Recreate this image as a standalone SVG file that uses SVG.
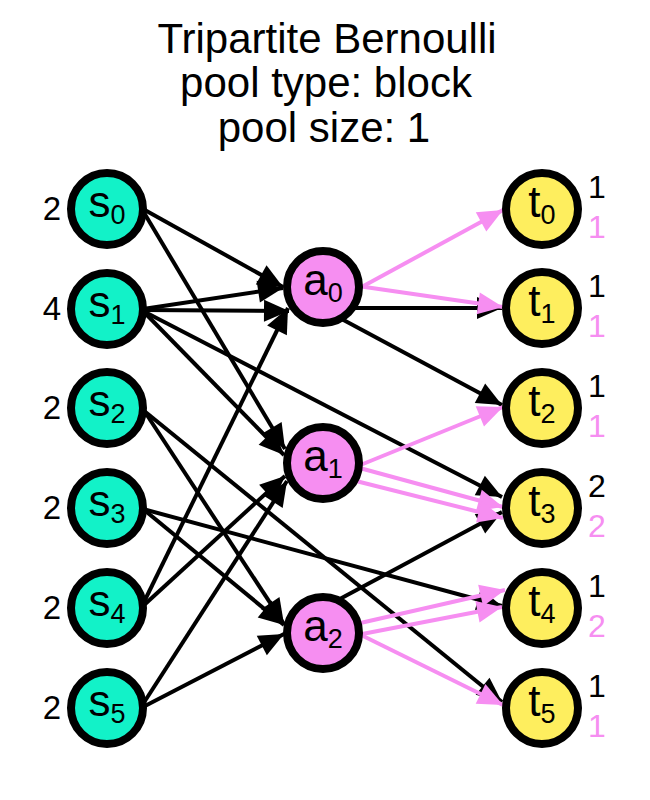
<svg xmlns="http://www.w3.org/2000/svg" width="650" height="800" viewBox="0 0 650 800">
<style>
.title{font-family:"Liberation Sans",Arial,Helvetica,sans-serif;font-size:42px;fill:#000;text-anchor:middle}
.nl{font-family:"Liberation Sans",Arial,Helvetica,sans-serif;font-size:44px;fill:#000;text-anchor:middle}
.sub{font-size:27px}
.deg{font-family:"Liberation Sans",Arial,Helvetica,sans-serif;font-size:33px;fill:#000;text-anchor:end}
.cap{font-family:"Liberation Sans",Arial,Helvetica,sans-serif;font-size:32px;text-anchor:start}
.capk{fill:#000}
.capp{fill:#F68EF1}
.s{fill:#12F2C8;stroke:#000;stroke-width:8}
.a{fill:#F68EF1;stroke:#000;stroke-width:8}
.t{fill:#FEEE5E;stroke:#000;stroke-width:8}
.eb{stroke:#000;stroke-width:4;fill:none;marker-end:url(#mb)}
.ep{stroke:#F68EF1;stroke-width:4;fill:none;marker-end:url(#mp)}
</style>
<defs>
<marker id="mb" markerUnits="userSpaceOnUse" markerWidth="30" markerHeight="24" refX="25" refY="11" orient="auto" overflow="visible">
<path d="M0,0 L25,11 L0,22 z" fill="#000"/>
</marker>
<marker id="mp" markerUnits="userSpaceOnUse" markerWidth="30" markerHeight="24" refX="25" refY="11" orient="auto" overflow="visible">
<path d="M0,0 L25,11 L0,22 z" fill="#F68EF1"/>
</marker>
</defs>
<g id="title">
<text class="title" x="327" y="53">Tripartite Bernoulli</text>
<text class="title" x="326" y="97">pool type: block</text>
<text class="title" x="324" y="142">pool size: 1</text>
</g>
<g id="connectors">
<line class="eb" x1="143" y1="209" x2="283" y2="287"/>
<line class="eb" x1="143" y1="211" x2="285" y2="449"/>
<line class="eb" x1="143" y1="309" x2="283" y2="288"/>
<line class="eb" x1="143" y1="310" x2="289" y2="311"/>
<line class="eb" x1="143" y1="311" x2="284" y2="455"/>
<line class="eb" x1="143" y1="311" x2="502" y2="497"/>
<line class="eb" x1="143" y1="409" x2="284" y2="624"/>
<line class="eb" x1="143" y1="410" x2="502" y2="702"/>
<line class="eb" x1="143" y1="509" x2="284" y2="625"/>
<line class="eb" x1="143" y1="509" x2="502" y2="606"/>
<line class="eb" x1="143" y1="604" x2="288" y2="308"/>
<line class="eb" x1="143" y1="606" x2="285" y2="476"/>
<line class="eb" x1="143" y1="704" x2="287" y2="481"/>
<line class="eb" x1="143" y1="707" x2="284" y2="634"/>
<line class="eb" x1="340" y1="308" x2="502" y2="308"/>
<line class="eb" x1="323" y1="309" x2="502" y2="405"/>
<line class="eb" x1="323" y1="608" x2="502" y2="512"/>
<line class="ep" x1="358" y1="289" x2="503" y2="210"/>
<line class="ep" x1="358" y1="286" x2="503" y2="307"/>
<line class="ep" x1="358" y1="466" x2="503" y2="407"/>
<line class="ep" x1="356" y1="467" x2="503" y2="507"/>
<line class="ep" x1="352" y1="480" x2="503" y2="518"/>
<line class="ep" x1="356" y1="624" x2="505" y2="590"/>
<line class="ep" x1="357" y1="635" x2="502" y2="607"/>
<line class="ep" x1="357" y1="633" x2="503" y2="705"/>
</g>
<g id="s0"><circle class="s" cx="107" cy="209" r="36"/><text class="nl" x="107" y="217">s<tspan class="sub" dy="7">0</tspan></text><text class="deg" x="61" y="220">2</text></g>
<g id="s1"><circle class="s" cx="107" cy="309" r="36"/><text class="nl" x="107" y="317">s<tspan class="sub" dy="7">1</tspan></text><text class="deg" x="61" y="320">4</text></g>
<g id="s2"><circle class="s" cx="107" cy="408" r="36"/><text class="nl" x="107" y="416">s<tspan class="sub" dy="7">2</tspan></text><text class="deg" x="61" y="419">2</text></g>
<g id="s3"><circle class="s" cx="107" cy="508" r="36"/><text class="nl" x="107" y="516">s<tspan class="sub" dy="7">3</tspan></text><text class="deg" x="61" y="519">2</text></g>
<g id="s4"><circle class="s" cx="107" cy="608" r="36"/><text class="nl" x="107" y="616">s<tspan class="sub" dy="7">4</tspan></text><text class="deg" x="61" y="619">2</text></g>
<g id="s5"><circle class="s" cx="107" cy="708" r="36"/><text class="nl" x="107" y="716">s<tspan class="sub" dy="7">5</tspan></text><text class="deg" x="61" y="719">2</text></g>
<g id="a0"><circle class="a" cx="323" cy="287" r="36"/><text class="nl" x="323" y="295">a<tspan class="sub" dy="7">0</tspan></text></g>
<g id="a1"><circle class="a" cx="323" cy="463" r="36"/><text class="nl" x="323" y="471">a<tspan class="sub" dy="7">1</tspan></text></g>
<g id="a2"><circle class="a" cx="323" cy="633" r="36"/><text class="nl" x="323" y="641">a<tspan class="sub" dy="7">2</tspan></text></g>
<g id="t0"><circle class="t" cx="542" cy="209" r="36"/><text class="nl" x="542" y="217">t<tspan class="sub" dy="7">0</tspan></text><text class="cap capk" x="588" y="198">1</text><text class="cap capp" x="588" y="238">1</text></g>
<g id="t1"><circle class="t" cx="542" cy="308" r="36"/><text class="nl" x="542" y="316">t<tspan class="sub" dy="7">1</tspan></text><text class="cap capk" x="588" y="297">1</text><text class="cap capp" x="588" y="337">1</text></g>
<g id="t2"><circle class="t" cx="542" cy="408" r="36"/><text class="nl" x="542" y="416">t<tspan class="sub" dy="7">2</tspan></text><text class="cap capk" x="588" y="397">1</text><text class="cap capp" x="588" y="437">1</text></g>
<g id="t3"><circle class="t" cx="542" cy="508" r="36"/><text class="nl" x="542" y="516">t<tspan class="sub" dy="7">3</tspan></text><text class="cap capk" x="588" y="497">2</text><text class="cap capp" x="588" y="537">2</text></g>
<g id="t4"><circle class="t" cx="542" cy="608" r="36"/><text class="nl" x="542" y="616">t<tspan class="sub" dy="7">4</tspan></text><text class="cap capk" x="588" y="597">1</text><text class="cap capp" x="588" y="637">2</text></g>
<g id="t5"><circle class="t" cx="542" cy="708" r="36"/><text class="nl" x="542" y="716">t<tspan class="sub" dy="7">5</tspan></text><text class="cap capk" x="588" y="697">1</text><text class="cap capp" x="588" y="737">1</text></g>
</svg>
